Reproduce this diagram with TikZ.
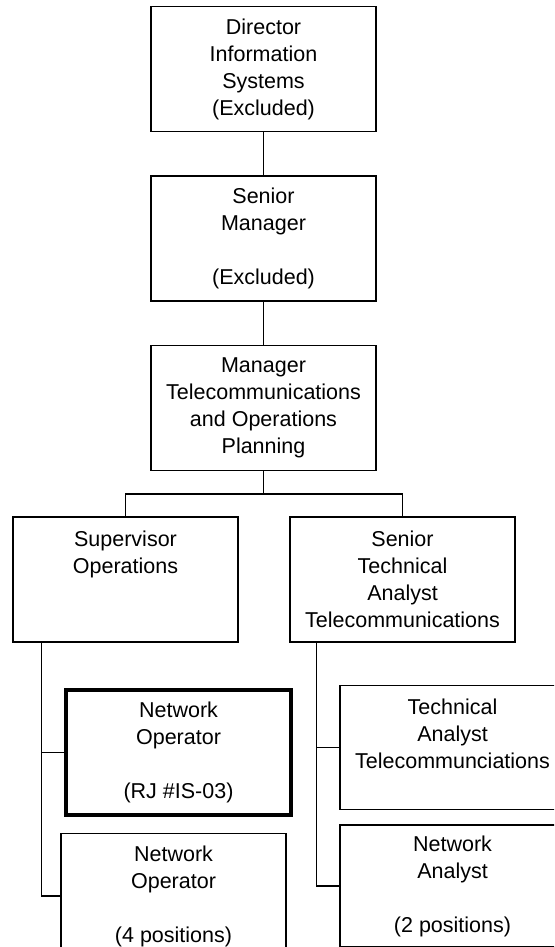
\documentclass[tikz,border=0pt]{standalone}
\usepackage{fontspec}
\setmainfont{Liberation Sans}
\usepackage{tikz}
\usetikzlibrary{positioning, calc}
\newcommand{\postfont}{\fontsize{21.5}{27}\selectfont}
\tikzset{
  post/.style={
    rectangle, draw=black, line width=1.5pt, minimum width=225pt, minimum height=125pt,
    inner sep=0pt, align=center, font=\postfont
  },
  ownpost/.style={post, line width=4pt},
  link/.style={line width=1.5pt}
}

\begin{document}
\begin{tikzpicture}[x=1pt, y=1pt]
    \clip (0,0) rectangle (554,-947);
    \node[post] (dir) at (263.5,-69) {Director\\Information\\Systems\\(Excluded)};
    \node[post, below=43pt of dir] (snr) {Senior\\Manager\\~\\(Excluded)};
    \node[post, below=43pt of snr] (mgr) {Manager\\Telecommunications\\and Operations\\Planning};
    \node[post, below=45pt of mgr, xshift=-138pt] (sup) {Supervisor\\Operations\\~\\~};
    \node[post, below=45pt of mgr, xshift=139pt] (sta) {Senior\\Technical\\Analyst\\Telecommunications};
    \node[ownpost, below=45pt of sup, xshift=53pt] (netop) {Network\\Operator\\~\\(RJ \#IS-03)};
    \node[post, below=16pt of netop, xshift=-5pt] (netops) {Network\\Operator\\~\\(4 positions)};
    \node[post, below=42pt of sta, xshift=50pt, minimum height=124pt] (techan) {Technical\\Analyst\\Telecommunciations\\~};
    \node[post, below=14pt of techan, minimum height=122pt] (netan) {Network\\Analyst\\~\\(2 positions)};
    \draw[link] (dir.south) -- (snr.north);
    \draw[link] (snr.south) -- (mgr.south |- mgr.north);
    \coordinate (split) at ($(mgr.south)!.5!(mgr.south |- sup.north)$);
    \draw[link] (mgr.south) -- (split);
    \draw[link] (sup.north) |- (split) -| (sta.north);
    \coordinate (supline) at ([xshift=29pt]sup.south west);
    \draw[link] (supline) |- (netop.west);
    \draw[link] (supline) |- (netops.west);
    \coordinate (staline) at ([xshift=27pt]sta.south west);
    \draw[link] (staline) |- (techan.west);
    \draw[link] (staline) |- (netan.west);
\end{tikzpicture}
\end{document}
